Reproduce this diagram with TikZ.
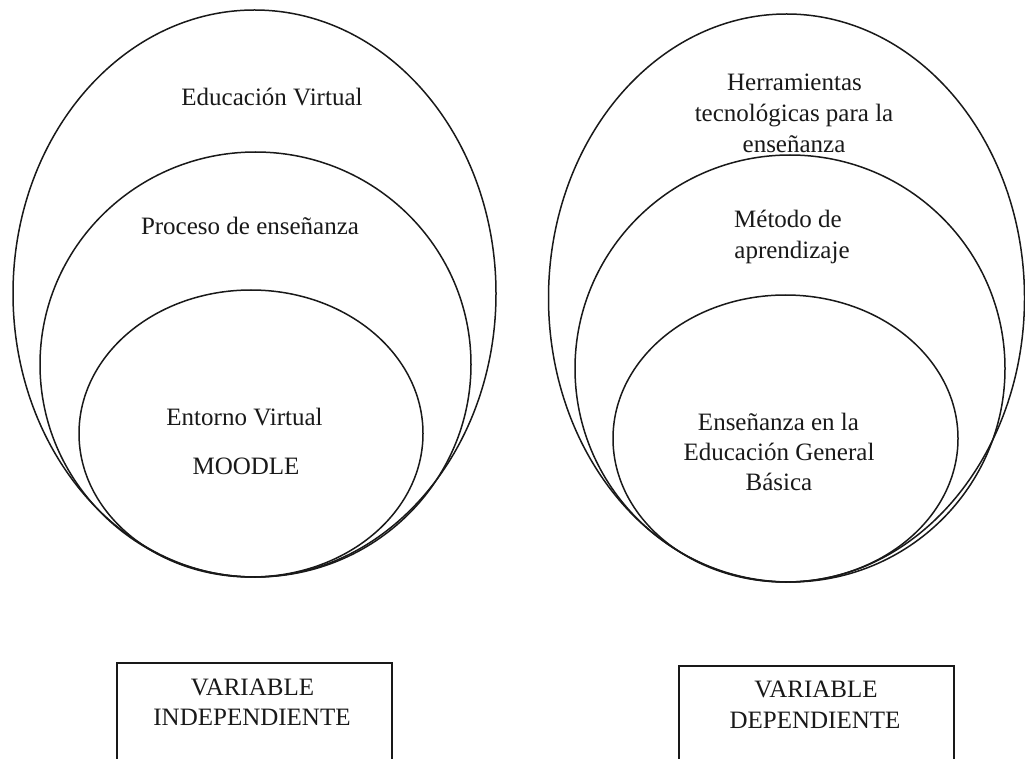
\documentclass[tikz,border=0pt]{standalone}
\usepackage{fontspec}
\setmainfont{Liberation Serif}
\begin{document}
\begin{tikzpicture}[x=1pt,y=-1pt,
  ring/.style={draw=black!90,line width=1.5pt},
  lbl/.style={anchor=base,inner sep=0pt,text=black!90,font=\fontsize{25}{31}\selectfont},
  varbox/.style={draw=black!90,line width=1.5pt,anchor=north west,inner sep=0pt}]
\useasboundingbox (0,0) rectangle (1025,759);
\fill[white] (0,0) rectangle (1025,759);
\clip (0,0) rectangle (1025,759);
% left group
\draw[ring] (254.5,293.5) ellipse [x radius=241.5pt, y radius=283.5pt];
\draw[ring] (255.5,364.5) ellipse [x radius=215.5pt, y radius=212.5pt];
\draw[ring] (251,433.5) ellipse [x radius=172pt, y radius=143.5pt];
\node[lbl] (ev) at (272,106) {Educación Virtual};
\node[lbl] (pe) at (250,235) {Proceso de enseñanza};
\node[lbl] (en) at (244.5,425) {Entorno Virtual};
\node[lbl] (mo) at (246,474) {MOODLE};
% right group
\draw[ring] (786.5,298) ellipse [x radius=238pt, y radius=284pt];
\draw[ring] (790,368.5) ellipse [x radius=215pt, y radius=213.5pt];
\draw[ring] (785.5,438.5) ellipse [x radius=172.5pt, y radius=143.5pt];
\node[lbl] (h1) at (794.5,91) {Herramientas};
\node[lbl] (h2) at (794,122) {tecnológicas para la};
\node[lbl] (h3) at (794,153) {enseñanza};
\node[lbl] (m1) at (788,228) {Método de};
\node[lbl] (m2) at (792,258.5) {aprendizaje};
\node[lbl] (e1) at (778.5,430) {Enseñanza en la};
\node[lbl] (e2) at (779,460) {Educación General};
\node[lbl] (e3) at (779,490) {Básica};
% boxes
\node[varbox,minimum width=275pt,minimum height=120pt] (boxL) at (116,662) {};
\node[varbox,minimum width=275pt,minimum height=120pt] (boxR) at (678,665) {};
\node[lbl] (vl1) at (252.5,695.5) {VARIABLE};
\node[lbl] (vl2) at (252,725.5) {INDEPENDIENTE};
\node[lbl] (vr1) at (816,697.5) {VARIABLE};
\node[lbl] (vr2) at (815,728) {DEPENDIENTE};
\end{tikzpicture}
\end{document}
